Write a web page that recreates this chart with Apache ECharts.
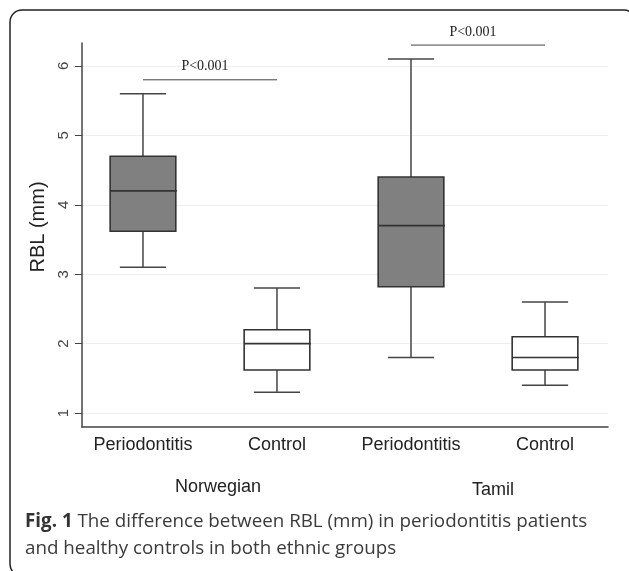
<!DOCTYPE html>
<html>
<head>
<meta charset="utf-8">
<script src="https://cdn.jsdelivr.net/npm/echarts@6/dist/echarts.min.js"></script>
<style>
  html, body { margin: 0; padding: 0; background: #ffffff; }
  #chart { width: 629px; height: 571px; }
</style>
</head>
<body>
<div id="chart"></div>
<script>
// ---- data ----
const categories = ['Periodontitis', 'Control', 'Periodontitis', 'Control'];
const groups = ['Norwegian', 'Tamil'];
const whiskerLow  = [3.1, 1.3, 1.8, 1.4];
const q1          = [3.62, 1.62, 2.82, 1.62];
const median      = [4.2, 2.0, 3.7, 1.8];
const q3          = [4.7, 2.2, 4.4, 2.1];
const whiskerHigh = [5.6, 2.8, 6.1, 2.6];
const yTicks = [1, 2, 3, 4, 5, 6];
const xTicks = [1, 2, 3, 4];
const pTexts = ['P<0.001', 'P<0.001'];
const pFrom  = [1, 3];
const pTo    = [2, 4];
const pLevel = [5.8, 6.3];
const yName = 'RBL (mm)';
const captionBold = 'Fig. 1';
const captionLine1 = ' The difference between RBL (mm) in periodontitis patients';
const captionLine2 = 'and healthy controls in both ethnic groups';

// ---- styles ----
const boxFills = ['#808080', '#ffffff', '#808080', '#ffffff'];
const BOX_W = 0.49, CAP_W = 0.345;

const boxData = xTicks.map((x, i) => [x, whiskerLow[i], q1[i], median[i], q3[i], whiskerHigh[i]]);
const bracketData = pFrom.map((f, i) => [f, pTo[i], pLevel[i]]);

const chart = echarts.init(document.getElementById('chart'), null, { renderer: 'canvas' });

const option = {
  backgroundColor: '#ffffff',
  animation: false,
  grid: { left: 82, right: 21, top: 43, bottom: 144 },
  xAxis: {
    type: 'value',
    min: 0.545,
    max: 4.47,
    axisLine: { onZero: false, lineStyle: { color: '#444', width: 1.5 } },
    axisTick: { show: false },
    splitLine: { show: false },
    axisLabel: {
      customValues: xTicks,
      formatter: v => categories[Math.round(v) - 1] || '',
      fontFamily: 'Liberation Sans',
      fontSize: 18,
      color: '#222',
      margin: 9
    }
  },
  yAxis: {
    type: 'value',
    min: 0.8,
    max: 6.33,
    name: yName,
    nameLocation: 'middle',
    nameGap: 24,
    nameTextStyle: { fontFamily: 'Liberation Sans', fontSize: 20, color: '#222', padding: [0, 0, 0, 16] },
    axisLine: { show: true, onZero: false, lineStyle: { color: '#444', width: 1.5 } },
    axisTick: { show: true, length: 7, customValues: yTicks, lineStyle: { color: '#444', width: 1 } },
    splitLine: { show: true, lineStyle: { color: '#eeeeee', width: 1 } },
    axisLabel: {
      customValues: yTicks,
      rotate: 90,
      fontFamily: 'Liberation Sans',
      fontSize: 15,
      color: '#444',
      margin: 11
    }
  },
  graphic: [
    {
      type: 'rect',
      shape: { x: 10, y: 10, width: 626, height: 566, r: 12 },
      style: { fill: 'none', stroke: '#222', lineWidth: 1.5 },
      silent: true, z: -10
    },
    {
      type: 'text', left: 219 - 44, top: 478,
      style: { text: groups[0], font: '18px "Liberation Sans"', fill: '#222' }
    },
    {
      type: 'text', left: 495 - 23, top: 481,
      style: { text: groups[1], font: '18px "Liberation Sans"', fill: '#222' }
    },
    {
      type: 'text', left: 25, top: 512,
      style: {
        text: '{b|' + captionBold + '}{r|' + captionLine1 + '}\n{r|' + captionLine2 + '}',
        rich: {
          b: { font: 'bold 18.8px "Open Sans"', fill: '#333', lineHeight: 27 },
          r: { font: '18.8px "Open Sans"', fill: '#3a3a3a', lineHeight: 27 }
        }
      }
    }
  ],
  series: [
    {
      type: 'custom',
      name: 'boxes',
      data: boxData,
      encode: { x: 0, y: [1, 2, 3, 4, 5] },
      renderItem: function (params, api) {
        const x = api.value(0);
        const pLow = api.coord([x, api.value(1)]);
        const pQ1 = api.coord([x, api.value(2)]);
        const pMed = api.coord([x, api.value(3)]);
        const pQ3 = api.coord([x, api.value(4)]);
        const pHigh = api.coord([x, api.value(5)]);
        const cx = pLow[0];
        const bw = api.size([BOX_W, 0])[0];
        const cw = api.size([CAP_W, 0])[0];
        const wStyle = { stroke: '#444', lineWidth: 1.5 };
        const bStyle = { stroke: '#333', lineWidth: 1.6 };
        return {
          type: 'group',
          children: [
            { type: 'line', shape: { x1: cx, y1: pHigh[1], x2: cx, y2: pQ3[1] }, style: wStyle },
            { type: 'line', shape: { x1: cx, y1: pQ1[1], x2: cx, y2: pLow[1] }, style: wStyle },
            { type: 'line', shape: { x1: cx - cw / 2, y1: pHigh[1], x2: cx + cw / 2, y2: pHigh[1] }, style: wStyle },
            { type: 'line', shape: { x1: cx - cw / 2, y1: pLow[1], x2: cx + cw / 2, y2: pLow[1] }, style: wStyle },
            { type: 'rect', shape: { x: cx - bw / 2, y: pQ3[1], width: bw, height: pQ1[1] - pQ3[1] },
              style: { fill: boxFills[params.dataIndex], stroke: '#333', lineWidth: 1.6 } },
            { type: 'line', shape: { x1: cx - bw / 2, y1: pMed[1], x2: cx + bw / 2 + 1, y2: pMed[1] }, style: bStyle }
          ]
        };
      }
    },
    {
      type: 'custom',
      name: 'brackets',
      data: bracketData,
      encode: { x: [0, 1], y: 2 },
      renderItem: function (params, api) {
        const a = api.coord([api.value(0), api.value(2)]);
        const b = api.coord([api.value(1), api.value(2)]);
        const mid = (a[0] + b[0]) / 2 - 5;
        return {
          type: 'group',
          children: [
            { type: 'line', shape: { x1: a[0], y1: a[1], x2: b[0], y2: b[1] }, style: { stroke: '#444', lineWidth: 1 } },
            { type: 'text', x: mid, y: a[1] - 13,
              style: { text: pTexts[params.dataIndex], font: '14px "Liberation Serif"', fill: '#222', align: 'center', verticalAlign: 'middle' } }
          ]
        };
      }
    }
  ]
};
chart.setOption(option);
</script>
</body>
</html>
